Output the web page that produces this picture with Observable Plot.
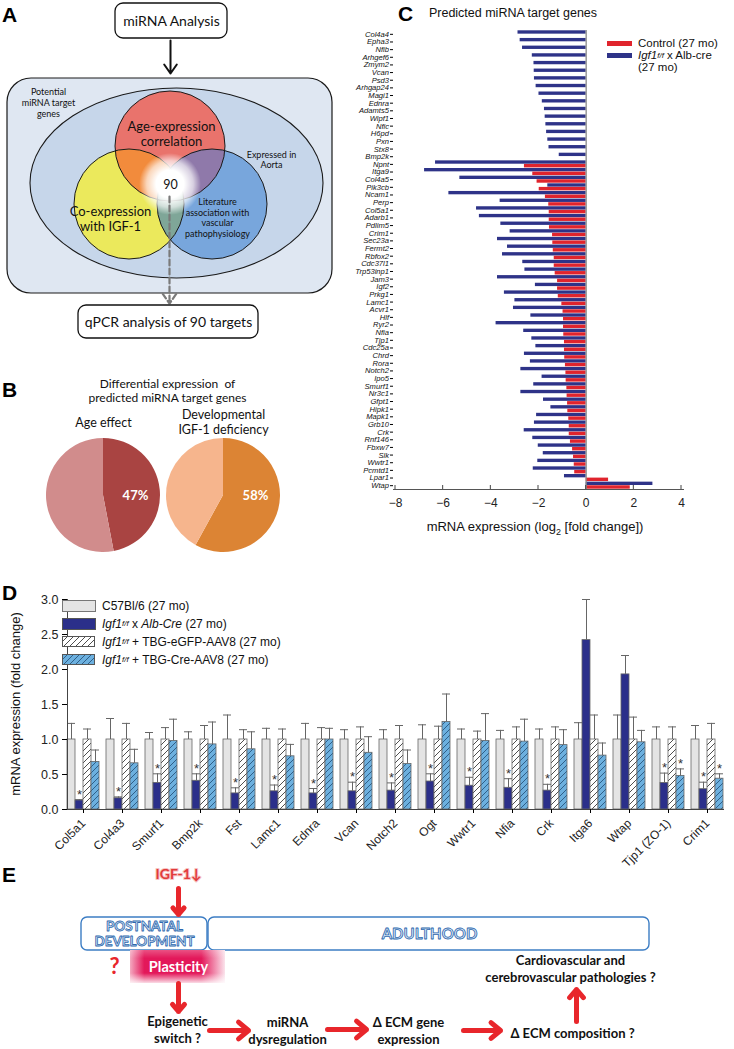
<!DOCTYPE html>
<html>
<head>
<meta charset="utf-8">
<script src="https://cdn.jsdelivr.net/npm/d3@7"></script>
<script src="https://cdn.jsdelivr.net/npm/@observablehq/plot@0.6"></script>
<style>
html,body{margin:0;padding:0;background:#fff}
body{width:734px;height:1049px;position:relative;overflow:hidden;font-family:"Liberation Sans",Arial,sans-serif}
.panel{position:absolute}
.plab{position:absolute;font:bold 21px "Liberation Sans",Arial,sans-serif;line-height:1;color:#000}
.leg{position:absolute;font-size:11.5px;line-height:1;color:#111;white-space:nowrap}
.leg .row{position:absolute;left:0;display:flex;align-items:center;white-space:nowrap}
.leg sup{font-size:8px;vertical-align:5px;line-height:0}
.txt{position:absolute;white-space:nowrap;color:#111}
</style>
</head>
<body>
<svg width="0" height="0" style="position:absolute">
  <defs>
    <pattern id="hatchW" patternUnits="userSpaceOnUse" width="6" height="6">
      <rect width="6" height="6" fill="#ffffff"/>
      <path d="M0,6 L6,0 M-1.5,1.5 L1.5,-1.5 M4.5,7.5 L7.5,4.5" stroke="#222" stroke-width="0.8"/>
    </pattern>
    <pattern id="hatchB" patternUnits="userSpaceOnUse" width="6" height="6">
      <rect width="6" height="6" fill="#6cb0df"/>
      <path d="M0,6 L6,0 M-1.5,1.5 L1.5,-1.5 M4.5,7.5 L7.5,4.5" stroke="#1f4a72" stroke-width="0.8"/>
    </pattern>
    <radialGradient id="glowA">
      <stop offset="0" stop-color="#fff" stop-opacity="1"/>
      <stop offset="0.45" stop-color="#fff" stop-opacity="1"/>
      <stop offset="0.75" stop-color="#fff" stop-opacity="0.65"/>
      <stop offset="1" stop-color="#fff" stop-opacity="0"/>
    </radialGradient>
    <linearGradient id="plastH" x1="0" x2="1" y1="0" y2="0">
      <stop offset="0" stop-color="#f4a9c0"/>
      <stop offset="0.15" stop-color="#e3185a"/>
      <stop offset="0.75" stop-color="#e3185a"/>
      <stop offset="1" stop-color="#fbe3ec"/>
    </linearGradient>
    <linearGradient id="plastV" x1="0" x2="0" y1="0" y2="1">
      <stop offset="0" stop-color="#fff" stop-opacity="0.25"/>
      <stop offset="0.25" stop-color="#fff" stop-opacity="0"/>
      <stop offset="0.7" stop-color="#fff" stop-opacity="0"/>
      <stop offset="1" stop-color="#fff" stop-opacity="0.85"/>
    </linearGradient>
  </defs>
</svg>

<div id="pA" class="panel" style="left:0;top:0"></div>
<div id="pB" class="panel" style="left:0;top:370px"></div>
<div id="pC" class="panel" style="left:330px;top:0"></div>
<div id="pD" class="panel" style="left:0;top:560px"></div>
<div id="pE" class="panel" style="left:0;top:858px"></div>

<div class="plab" style="left:2px;top:4px">A</div>
<div class="plab" style="left:2px;top:379px">B</div>
<div class="plab" style="left:398px;top:3px">C</div>
<div class="plab" style="left:2px;top:582px">D</div>
<div class="plab" style="left:2px;top:864px">E</div>

<!-- Panel C legend, title and axis title -->
<div class="leg" style="left:607px;top:38px;font-size:11.5px">
  <div class="row" style="top:0"><span style="display:inline-block;width:25px;height:5px;background:#e0242d;margin-right:6px"></span>Control (27 mo)</div>
  <div class="row" style="top:12px"><span style="display:inline-block;width:25px;height:5px;background:#2e3388;margin-right:6px"></span><i>Igf1</i><sup><i>f/f</i></sup>&nbsp;x Alb-cre</div>
  <div class="row" style="top:24px;left:31px">(27 mo)</div>
</div>
<div class="txt" style="left:535px;top:519px;transform:translateX(-50%);font-size:13px">mRNA expression (log<sub style="font-size:9px">2</sub> [fold change])</div>
<div class="txt" style="left:513px;top:6px;transform:translateX(-50%);font-size:12.5px">Predicted miRNA target genes</div>

<!-- Panel D legend and y-axis title -->
<div class="leg" style="left:62px;top:600px;font-size:12px">
  <div class="row" style="top:0"><span style="display:inline-block;width:32px;height:10px;background:#e4e4e4;border:1px solid #777;margin-right:6px"></span>C57Bl/6 (27 mo)</div>
  <div class="row" style="top:18px"><span style="display:inline-block;width:32px;height:10px;background:#2b2f8a;border:1px solid #555;margin-right:6px"></span><i>Igf1</i><sup><i>f/f</i></sup>&nbsp;x&nbsp;<i>Alb-Cre</i>&nbsp;(27 mo)</div>
  <div class="row" style="top:36px"><svg width="34" height="12" style="margin-right:6px"><rect x="0.5" y="0.5" width="32" height="10" fill="url(#hatchW)" stroke="#555"/></svg><i>Igf1</i><sup><i>f/f</i></sup>&nbsp;+ TBG-eGFP-AAV8 (27 mo)</div>
  <div class="row" style="top:54px"><svg width="34" height="12" style="margin-right:6px"><rect x="0.5" y="0.5" width="32" height="10" fill="url(#hatchB)" stroke="#555"/></svg><i>Igf1</i><sup><i>f/f</i></sup>&nbsp;+ TBG-Cre-AAV8 (27 mo)</div>
</div>
<div class="txt" style="left:15px;top:704px;transform:translate(-50%,-50%) rotate(-90deg);font-size:13px">mRNA expression (fold change)</div>

<script>
// ======================= DATA =======================
// Panel B: share of predicted miRNA targets differentially expressed (%)
const pieGroups = ["Age effect", "Developmental\nIGF-1 deficiency"];
const pieChanged = [47, 58];

// Panel C: predicted miRNA target genes, log2 fold change
const cGenes = ["Col4a4","Epha3","Nfib","Arhgef6","Zmym2","Vcan","Psd3","Arhgap24","Magi1","Ednra",
  "Adamts5","Wipf1","Nfic","H6pd","Pxn","Stx8","Bmp2k","Npnt","Itga9","Col4a5",
  "Pik3cb","Ncam1","Perp","Col5a1","Adarb1","Pdlim5","Crim1","Sec23a","Fermt2","Rbfox2",
  "Cdc37l1","Trp53inp1","Jam3","Igf2","Prkg1","Lamc1","Acvr1","Hlf","Ryr2","Nfia",
  "Tjp1","Cdc25a","Chrd","Rora","Notch2","Ipo5","Smurf1","Nr3c1","Gfpt1","Hipk1",
  "Mapk1","Grb10","Crk","Rnf146","Fbxw7","Slk","Wwtr1","Pcmtd1","Lpar1","Wtap"];
const cControl = [0,0,0,0,0,0,0,0,0,0,
  0,0,0,0,0,0,0,-2.59,-2.24,-2.06,
  -1.97,-1.71,-1.57,-1.55,-1.55,-1.54,-1.41,-1.40,-1.38,-1.34,
  -1.34,-1.30,-1.20,-1.20,-1.17,-1.02,-0.97,-0.95,-0.95,-0.94,
  -0.91,-0.91,-0.90,-0.87,-0.85,-0.84,-0.81,-0.80,-0.78,-0.77,
  -0.73,-0.71,-0.71,-0.66,-0.57,-0.53,-0.50,-0.48,0.94,1.85];
const cIgf1KO = [-2.86,-2.77,-2.67,-2.26,-2.19,-2.18,-2.17,-2.10,-1.98,-1.84,
  -1.75,-1.72,-1.69,-1.66,-1.61,-1.56,-1.13,-6.32,-6.78,-5.30,
  -1.61,-5.76,-3.61,-4.60,-4.48,-3.58,-3.19,-3.72,-3.30,-3.51,
  -2.66,-2.57,-3.72,-2.13,-3.43,-2.99,-3.05,-2.32,-3.78,-2.62,
  -2.28,-2.11,-2.59,-2.34,-2.74,-1.85,-2.20,-2.74,-1.79,-1.48,
  -2.08,-2.17,-2.60,-2.24,-2.01,-1.80,-2.03,-2.22,-0.91,2.80];
const cTicks = [-8,-6,-4,-2,0,2,4];

// Panel D: qPCR, fold change (mean and SD)
const dGenes = ["Col5a1","Col4a3","Smurf1","Bmp2k","Fst","Lamc1","Ednra","Vcan","Notch2","Ogt",
  "Wwtr1","Nfia","Crk","Itga6","Wtap","Tjp1 (ZO-1)","Crim1"];
const dSeries = ["C57Bl/6","Alb-Cre","TBG-eGFP-AAV8","TBG-Cre-AAV8"];
const dWT     = [1,1,1,1,1,1,1,1,1,1,1,1,1,1,1,1,1];
const dWTsd   = [0.23,0.30,0.10,0.11,0.35,0.16,0.23,0.14,0.14,0.21,0.15,0.13,0.15,0.24,0.35,0.18,0.20];
const dAlb    = [0.13,0.16,0.38,0.41,0.23,0.26,0.23,0.26,0.27,0.40,0.34,0.31,0.27,2.42,1.93,0.38,0.29];
const dAlbSd  = [0.01,0.02,0.13,0.10,0.08,0.09,0.07,0.13,0.11,0.11,0.12,0.13,0.09,0.58,0.27,0.14,0.10];
const dGfp    = [1,1,1,1,1,1,1,1,1,1,1,1,1,1,1,1,1];
const dGfpSd  = [0.15,0.23,0.17,0.20,0.14,0.15,0.17,0.18,0.20,0.19,0.12,0.18,0.18,0.35,0.32,0.18,0.23];
const dCre    = [0.68,0.66,0.98,0.93,0.86,0.76,1.00,0.81,0.65,1.25,0.98,0.97,0.92,0.77,0.96,0.48,0.44];
const dCreSd  = [0.17,0.20,0.31,0.32,0.25,0.17,0.16,0.23,0.20,0.40,0.39,0.32,0.22,0.18,0.17,0.10,0.07];
const dAlbSig = [1,1,1,1,1,1,1,1,1,1,1,1,1,0,0,1,1];
const dCreSig = [0,0,0,0,0,0,0,0,0,0,0,0,0,0,0,1,1];
const dTicks  = [0,0.5,1,1.5,2,2.5,3];

// ======================= LAYOUT (diagrams) =======================
const aBoxes = [
  {t:"miRNA Analysis", x1:115, x2:227, y1:3, y2:38, cx:171, cy:21},
  {t:"qPCR analysis of 90 targets", x1:78, x2:258, y1:305, y2:338, cx:168, cy:322}
];
const aFrame = [{x1:7, x2:332, y1:78, y2:293}];
const aEllipse = {cx:176.5, cy:183, rx:146.5, ry:95};
const aCircles = [
  {cx:170, cy:146, r:55, fill:"#e9736c"},
  {cx:129, cy:204, r:55, fill:"#ebe95c"},
  {cx:212, cy:204, r:55, fill:"#78a6dc"}
];
const aLenses = [{a:0,b:1,fill:"#f28b3c"},{a:0,b:2,fill:"#8f79aa"},{a:1,b:2,fill:"#7fa698"}];
const aGlow = {cx:170, cy:184, r:31};
const aLabels = [
  {t:"Potential\nmiRNA target\ngenes", x:48, y:102, s:9, w:"bold"},
  {t:"Expressed in\nAorta", x:271, y:159, s:9, w:"bold"},
  {t:"Age-expression\ncorrelation", x:171, y:133, s:13, w:"bold"},
  {t:"Co-expression\nwith IGF-1", x:110, y:218, s:13, w:"bold"},
  {t:"Literature\nassociation with\nvascular\npathophysiology", x:217, y:217, s:9, w:"bold"},
  {t:"90", x:170, y:184, s:12.5, w:"normal"}
];
const aArrows = [{x1:170, y1:40, x2:170, y2:73}];
const aDashed = [{x1:169, y1:196, x2:169, y2:303}];

const eBoxes = [{x1:81, x2:207, y1:917, y2:950},{x1:208, x2:649, y1:917, y2:950}];
const eStages = [{t:"POSTNATAL\nDEVELOPMENT", x:144, y:933.5, s:13.5},{t:"ADULTHOOD", x:429, y:933.5, s:15}];
const eArrows = [
  {x1:178,y1:888,x2:178,y2:914},
  {x1:178,y1:983,x2:178,y2:1011},
  {x1:209,y1:1030,x2:248,y2:1030},
  {x1:327,y1:1029,x2:366,y2:1029},
  {x1:463,y1:1030,x2:500,y2:1030},
  {x1:576,y1:1021,x2:576,y2:989}
];
const eTexts = [
  {t:"Epigenetic\nswitch ?", x:177, y:1029},
  {t:"miRNA\ndysregulation", x:287, y:1030},
  {t:"Δ ECM gene\nexpression", x:408, y:1030},
  {t:"Δ ECM composition ?", x:572, y:1032},
  {t:"Cardiovascular and\ncerebrovascular pathologies ?", x:570, y:968}
];
const ePlast = [{x1:130, x2:225, y1:950, y2:983}];

const CAL = "Lato, 'Open Sans', sans-serif";
const ARIAL = "'Liberation Sans', Arial, sans-serif";

// ======================= PANEL A =======================
function vennMark(index, scales) {
  const X = scales.x, Y = scales.y;
  const g = d3.create("svg:g");
  g.append("ellipse")
    .attr("cx", X(aEllipse.cx)).attr("cy", Y(aEllipse.cy))
    .attr("rx", X(aEllipse.cx + aEllipse.rx) - X(aEllipse.cx))
    .attr("ry", Y(aEllipse.cy + aEllipse.ry) - Y(aEllipse.cy))
    .attr("fill", "#c6d6ea").attr("stroke", "#1a1a1a").attr("stroke-width", 1.1);
  const defs = g.append("defs");
  aCircles.forEach((c, i) => defs.append("clipPath").attr("id", "vclip" + i)
    .append("circle").attr("cx", X(c.cx)).attr("cy", Y(c.cy)).attr("r", c.r));
  aCircles.forEach(c => g.append("circle").attr("cx", X(c.cx)).attr("cy", Y(c.cy)).attr("r", c.r).attr("fill", c.fill));
  aLenses.forEach(l => {
    const c = aCircles[l.b];
    g.append("circle").attr("cx", X(c.cx)).attr("cy", Y(c.cy)).attr("r", c.r)
      .attr("clip-path", `url(#vclip${l.a})`).attr("fill", l.fill);
  });
  aCircles.forEach(c => g.append("circle").attr("cx", X(c.cx)).attr("cy", Y(c.cy)).attr("r", c.r)
    .attr("fill", "none").attr("stroke", "#1a1a1a").attr("stroke-width", 1));
  g.append("circle").attr("cx", X(aGlow.cx)).attr("cy", Y(aGlow.cy)).attr("r", aGlow.r).attr("fill", "url(#glowA)");
  return g.node();
}
document.getElementById("pA").append(Plot.plot({
  width: 340, height: 370, margin: 0,
  style: {background: "transparent", fontFamily: CAL},
  x: {domain: [0, 340], range: [0, 340], axis: null},
  y: {domain: [0, 370], range: [0, 370], axis: null},
  marks: [
    Plot.rect(aFrame, {x1:"x1", x2:"x2", y1:"y1", y2:"y2", rx: 24, fill: "#dfe7f2", stroke: "#1a1a1a", strokeWidth: 1.2}),
    vennMark,
    Plot.arrow(aArrows, {x1:"x1", y1:"y1", x2:"x2", y2:"y2", stroke:"#111", strokeWidth: 2, headLength: 9, headAngle: 70}),
    Plot.arrow(aDashed, {x1:"x1", y1:"y1", x2:"x2", y2:"y2", stroke:"#7a7a7a", strokeWidth: 2.2, strokeDasharray: "6,3", headLength: 8, headAngle: 70}),
    Plot.rect(aBoxes, {x1:"x1", x2:"x2", y1:"y1", y2:"y2", rx: 8, fill: "white", stroke: "#111", strokeWidth: 1.3}),
    Plot.text(aBoxes, {x:"cx", y:"cy", text:"t", fontSize: 14, fill: "#111", fontFamily: CAL}),
    Plot.text(aLabels, {x:"x", y:"y", text:"t", fontSize: d => d.s, fontWeight: d => d.w, lineHeight: 1.18, fill:"#111", fontFamily: CAL})
  ]
}));

// ======================= PANEL B =======================
const pieColors = [["#a94442", "#d18c8c"], ["#dc8434", "#f6b58d"]];
function pieMark(index, scales) {
  const g = d3.create("svg:g");
  const r = 57;
  const cy = scales.y(125);
  pieGroups.forEach((name, i) => {
    const cx = scales.x(name);
    const arcs = d3.pie().sort(null)([pieChanged[i], 100 - pieChanged[i]]);
    const arc = d3.arc().innerRadius(0).outerRadius(r);
    const gg = g.append("g").attr("transform", `translate(${cx},${cy})`);
    arcs.forEach((a, k) => gg.append("path").attr("d", arc(a)).attr("fill", pieColors[i][k]));
    gg.append("text").attr("x", r * 0.57).attr("y", 0).attr("dy", "0.35em").attr("text-anchor", "middle")
      .attr("fill", "white").attr("font-weight", "bold").attr("font-size", 13).attr("font-family", CAL)
      .text(pieChanged[i] + "%");
  });
  return g.node();
}
document.getElementById("pB").append(Plot.plot({
  width: 340, height: 190, margin: 0,
  style: {background: "transparent", fontFamily: CAL},
  x: {type: "point", domain: pieGroups, range: [103, 223], padding: 0, axis: null},
  y: {domain: [0, 190], range: [0, 190], axis: null},
  marks: [
    Plot.text(["Differential expression  of\npredicted miRNA target genes"], {frameAnchor: "top", dx: -3, dy: 7, text: d => d, fontSize: 12, lineHeight: 1.2, fontFamily: CAL, fill: "#111"}),
    Plot.text(pieGroups, {x: d => d, y: () => 51, text: d => d, fontSize: 12.5, lineHeight: 1.25, fontFamily: CAL, fill: "#111"}),
    pieMark
  ]
}));

// ======================= PANEL C =======================
const cRows = cGenes.map((g, i) => ({gene: g, control: cControl[i], ko: cIgf1KO[i]}));
function cTickMark(index, scales, values, dims) {
  const g = d3.create("svg:g").attr("stroke", "#444").attr("stroke-width", 1);
  const yb = dims.height - dims.marginBottom;
  cTicks.forEach(t => g.append("line").attr("x1", scales.x(t)).attr("x2", scales.x(t)).attr("y1", yb).attr("y2", yb - 4));
  return g.node();
}
document.getElementById("pC").append(Plot.plot({
  width: 404, height: 540,
  marginLeft: 63, marginRight: 51, marginTop: 30, marginBottom: 51,
  style: {background: "transparent", fontFamily: ARIAL},
  x: {domain: [-8, 4], range: [65, 351], axis: null},
  y: {domain: cGenes, padding: 0, axis: null},
  marks: [
    Plot.barX(cRows, {y: "gene", x1: 0, x2: "ko", fill: "#2e3388", insetTop: 0.3, insetBottom: 4.0}),
    Plot.barX(cRows, {y: "gene", x1: 0, x2: "control", fill: "#e0242d", insetTop: 3.9, insetBottom: 0.3}),
    Plot.ruleX([0], {stroke: "#8a8a8a", strokeWidth: 1.3}),
    Plot.axisY({ticks: cGenes, tickSize: 3, tickPadding: 1.5, fontSize: 7.6, fontStyle: "italic", label: null, fill: "#111"}),
    Plot.axisX({ticks: cTicks, tickSize: 0, tickPadding: 9, fontSize: 12, label: null, fill: "#222"}),
    Plot.frame({anchor: "bottom", stroke: "#555"}),
    cTickMark
  ]
}));

// ======================= PANEL D =======================
const dRows = [];
dGenes.forEach((g, i) => {
  dRows.push({gene: g, series: dSeries[0], mean: dWT[i], sd: dWTsd[i], sig: 0});
  dRows.push({gene: g, series: dSeries[1], mean: dAlb[i], sd: dAlbSd[i], sig: dAlbSig[i]});
  dRows.push({gene: g, series: dSeries[2], mean: dGfp[i], sd: dGfpSd[i], sig: 0});
  dRows.push({gene: g, series: dSeries[3], mean: dCre[i], sd: dCreSd[i], sig: dCreSig[i]});
});
const dFills = ["#e4e4e4", "#2b2f8a", "url(#hatchW)", "url(#hatchB)"];
document.getElementById("pD").append(Plot.plot({
  width: 734, height: 315,
  marginLeft: 57, marginRight: 0, marginTop: 39, marginBottom: 66,
  style: {background: "transparent", fontFamily: ARIAL},
  fx: {domain: dGenes, paddingInner: 0.17, paddingOuter: 0.18, label: null},
  x: {domain: dSeries, padding: 0, axis: null},
  y: {domain: [0, 3], axis: null},
  marks: [
    ...dSeries.map((s, k) => Plot.barY(dRows.filter(d => d.series === s),
      {fx: "gene", x: "series", y1: 0, y2: "mean", fill: dFills[k], stroke: "#666", strokeWidth: 0.8})),
    Plot.ruleX(dRows, {fx: "gene", x: "series", y1: "mean", y2: d => d.mean + d.sd, stroke: "#666", strokeWidth: 1}),
    Plot.tickY(dRows, {fx: "gene", x: "series", y: d => d.mean + d.sd, stroke: "#666", strokeWidth: 1}),
    Plot.text(dRows.filter(d => d.sig), {fx: "gene", x: "series", y: d => d.mean + d.sd, text: () => "*", dy: -5, fontSize: 13, fill: "#333"}),
    Plot.frame({anchor: "bottom", facet: "super", stroke: "#444"}),
    Plot.frame({anchor: "left", facet: "super", stroke: "#444"}),
    Plot.axisY({ticks: dTicks, tickFormat: d3.format(".1f"), tickSize: 5, fontSize: 12.5, label: null, fill: "#222"}),
    Plot.axisFx({anchor: "bottom", tickRotate: -45, tickSize: 4, fontSize: 12, label: null, fill: "#222"})
  ]
}));

// ======================= PANEL E =======================
document.getElementById("pE").append(Plot.plot({
  width: 734, height: 191, margin: 0,
  style: {background: "transparent", fontFamily: CAL},
  x: {domain: [0, 734], range: [0, 734], axis: null},
  y: {domain: [858, 1049], range: [0, 191], axis: null},
  marks: [
    Plot.rect(eBoxes, {x1:"x1", x2:"x2", y1:"y1", y2:"y2", rx: 6, fill: "white", stroke: "#3c7dc4", strokeWidth: 1.4}),
    Plot.text(eStages, {x:"x", y:"y", text:"t", fontSize: d => d.s, fontWeight: "bold", lineHeight: 1.12, fill: "#d6e5f5", stroke: "#2d68ae", strokeWidth: 0.8, paintOrder: "normal", fontFamily: CAL}),
    Plot.rect(ePlast, {x1:"x1", x2:"x2", y1:"y1", y2:"y2", fill: "url(#plastH)"}),
    Plot.rect(ePlast, {x1:"x1", x2:"x2", y1:"y1", y2:"y2", fill: "url(#plastV)"}),
    Plot.text(["Plasticity"], {x: () => 178, y: () => 967, text: d => d, fill: "white", fontWeight: "bold", fontSize: 14.5, fontFamily: CAL}),
    Plot.text(["?"], {x: () => 114, y: () => 966, text: d => d, fill: "#e8262b", fontWeight: "bold", fontSize: 22, fontFamily: CAL}),
    Plot.text(["IGF-1↓"], {x: () => 178, y: () => 874, text: d => d, fill: "#e23b3b", stroke: "#f6c2c2", strokeWidth: 2, fontWeight: "bold", fontSize: 14, fontFamily: CAL}),
    Plot.arrow(eArrows, {x1:"x1", y1:"y1", x2:"x2", y2:"y2", stroke: "#e8262b", strokeWidth: 5, headLength: 13, headAngle: 80}),
    Plot.text(eTexts, {x:"x", y:"y", text:"t", fontSize: 13, fontWeight: "bold", lineHeight: 1.3, fill: "#111", fontFamily: CAL})
  ]
}));
</script>
</body>
</html>
